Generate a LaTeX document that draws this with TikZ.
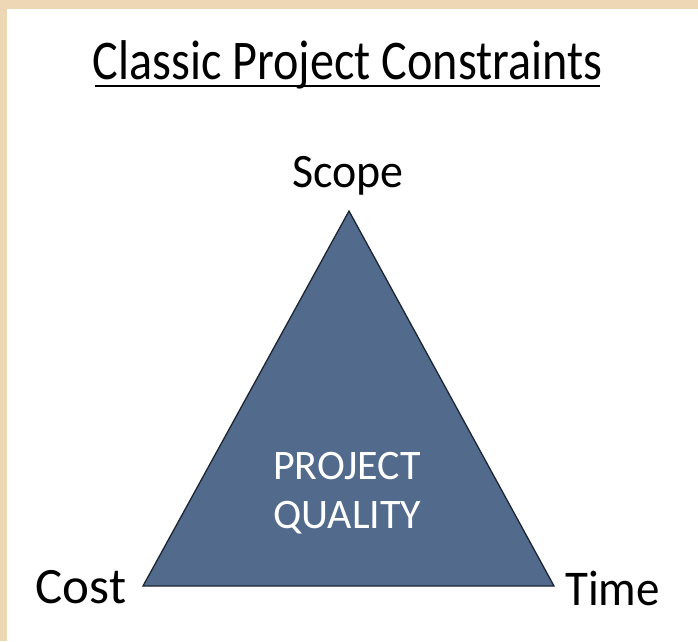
\documentclass[tikz,border=0pt]{standalone}
\usepackage{fontspec}
\setmainfont{Carlito}
\definecolor{tan}{HTML}{EDD7B4}
\definecolor{trifill}{HTML}{526A8C}
\definecolor{triline}{HTML}{1C2533}
\tikzset{
  lbl/.style={inner sep=0pt, anchor=base, text=black},
  inlbl/.style={inner sep=0pt, anchor=base, text=white},
}
\begin{document}
\begin{tikzpicture}[x=1pt,y=-1pt]
\useasboundingbox (0,0) rectangle (698,641);
\fill[tan] (0,0) rectangle (698,641);
\fill[white] (7,9) rectangle (698,641);
% title
\node[lbl, font=\fontsize{56}{60}\selectfont] (title) at (347.5,79) {\scalebox{0.86}[1]{Classic Project Constraints}};
\draw[line width=2pt] (95,86) -- (600,86);
% triangle
\coordinate (apex) at (349,211);
\coordinate (bl) at (143,586);
\coordinate (br) at (554,586);
\draw[fill=trifill, draw=triline, line width=1.3pt, line join=miter] (apex) -- (br) -- (bl) -- cycle;
% labels
\node[lbl, font=\fontsize{48}{52}\selectfont] (scope) at (348,187) {\scalebox{0.957}[1]{Scope}};
\node[lbl, font=\fontsize{51}{55}\selectfont] (cost) at (81,603) {Cost};
\node[lbl, font=\fontsize{50}{54}\selectfont] (time) at (612.5,605) {\scalebox{0.94}[1]{Time}};
\node[inlbl, font=\fontsize{42}{46}\selectfont] (pq1) at (347,479) {PROJECT};
\node[inlbl, font=\fontsize{42}{46}\selectfont] (pq2) at (347.5,528) {QUALITY};
\end{tikzpicture}
\end{document}
